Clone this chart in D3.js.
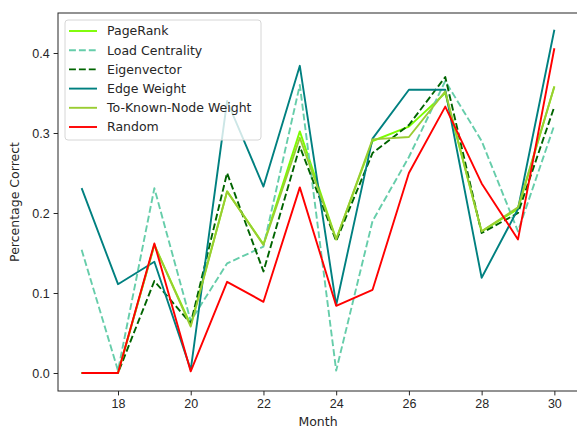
<!DOCTYPE html>
<html lang="en">
<head>
  <meta charset="UTF-8" />
  <title>Percentage Correct by Month</title>
  <script src="https://cdn.jsdelivr.net/npm/d3@7"></script>
  <style>
    body { margin: 0; background: #fff; }
    svg { display: block; font-family: "DejaVu Sans", sans-serif; }
  </style>
</head>
<body>
  <div id="chart"></div>
  <script>
    // Months on the x axis
    const months = [17, 18, 19, 20, 21, 22, 23, 24, 25, 26, 27, 28, 29, 30];

    // Series values
    const pageRank     = [0, 0, 0.160, 0.060, 0.227, 0.161, 0.302, 0.167, 0.290, 0.308, 0.350, 0.177, 0.205, 0.358];
    const loadCentral  = [0.154, 0.003, 0.231, 0.065, 0.137, 0.158, 0.360, 0.003, 0.190, 0.270, 0.365, 0.290, 0.177, 0.310];
    const eigenvector  = [0, 0, 0.115, 0.062, 0.250, 0.127, 0.283, 0.165, 0.275, 0.310, 0.370, 0.175, 0.200, 0.333];
    const edgeWeight   = [0.231, 0.111, 0.139, 0.004, 0.340, 0.233, 0.384, 0.085, 0.293, 0.354, 0.354, 0.119, 0.205, 0.429];
    const toKnownNode  = [0, 0, 0.160, 0.058, 0.227, 0.160, 0.294, 0.167, 0.292, 0.295, 0.352, 0.177, 0.207, 0.358];
    const randomPick   = [0, 0, 0.162, 0.002, 0.114, 0.089, 0.232, 0.084, 0.104, 0.250, 0.333, 0.237, 0.167, 0.406];

    const xTicks = [18, 20, 22, 24, 26, 28, 30];
    const yTicks = [0, 0.1, 0.2, 0.3, 0.4];

    const series = [
      { name: "PageRank", values: pageRank, color: "#7cfc00", dash: null },
      { name: "Load Centrality", values: loadCentral, color: "#66cdaa", dash: "6.9,3" },
      { name: "Eigenvector", values: eigenvector, color: "#006400", dash: "6.9,3" },
      { name: "Edge Weight", values: edgeWeight, color: "#008080", dash: null },
      { name: "To-Known-Node Weight", values: toKnownNode, color: "#9acd32", dash: null },
      { name: "Random", values: randomPick, color: "#ff0000", dash: null }
    ];

    const W = 577, H = 428;
    const margin = { top: 13, right: -1, bottom: 37, left: 58 };
    const width = W - margin.left - margin.right;
    const height = H - margin.top - margin.bottom;

    const svg = d3.select("#chart").append("svg")
      .attr("width", W)
      .attr("height", H);

    const g = svg.append("g")
      .attr("transform", `translate(${margin.left},${margin.top})`);

    const x = d3.scaleLinear().domain([16.35, 30.65]).range([0, width]);
    const y = d3.scaleLinear().domain([-0.0225, 0.45]).range([height, 0]);

    // Lines
    const line = d3.line()
      .x((d, i) => x(months[i]))
      .y(d => y(d));

    series.forEach(s => {
      g.append("path")
        .datum(s.values)
        .attr("fill", "none")
        .attr("stroke", s.color)
        .attr("stroke-width", 1.9)
        .attr("stroke-dasharray", s.dash)
        .attr("stroke-linejoin", "round")
        .attr("d", line);
    });

    // Axes
    const xAxis = g.append("g")
      .attr("transform", `translate(0,${height})`)
      .call(d3.axisBottom(x).tickValues(xTicks).tickFormat(d3.format("d")).tickSize(4.4).tickPadding(4));
    const yAxis = g.append("g")
      .call(d3.axisLeft(y).tickValues(yTicks).tickFormat(d3.format(".1f")).tickSize(4.4).tickPadding(4));

    [xAxis, yAxis].forEach(a => {
      a.select(".domain").remove();
      a.selectAll("text").attr("fill", "#262626").style("font-size", "12.5px");
      a.selectAll("line").attr("stroke", "#262626");
    });

    // Frame
    g.append("rect")
      .attr("width", width)
      .attr("height", height)
      .attr("fill", "none")
      .attr("stroke", "#262626")
      .attr("stroke-width", 1);

    // Axis labels
    svg.append("text")
      .attr("x", margin.left + width / 2)
      .attr("y", 426)
      .attr("text-anchor", "middle")
      .attr("fill", "#262626")
      .style("font-size", "12.5px")
      .text("Month");

    svg.append("text")
      .attr("transform", `translate(19,${margin.top + height / 2}) rotate(-90)`)
      .attr("text-anchor", "middle")
      .attr("fill", "#262626")
      .style("font-size", "12.5px")
      .text("Percentage Correct");

    // Legend
    const legend = svg.append("g").attr("transform", "translate(65,20)");
    legend.append("rect")
      .attr("width", 196)
      .attr("height", 120)
      .attr("rx", 3)
      .attr("fill", "#fff")
      .attr("fill-opacity", 0.8)
      .attr("stroke", "#d6d6d6");

    series.forEach((s, i) => {
      const row = legend.append("g").attr("transform", `translate(0,${11 + i * 19.2})`);
      row.append("line")
        .attr("x1", 4).attr("x2", 32)
        .attr("stroke", s.color)
        .attr("stroke-width", 1.9)
        .attr("stroke-dasharray", s.dash);
      row.append("text")
        .attr("x", 42)
        .attr("dy", "0.35em")
        .attr("fill", "#262626")
        .style("font-size", "12.5px")
        .text(s.name);
    });
  </script>
</body>
</html>
